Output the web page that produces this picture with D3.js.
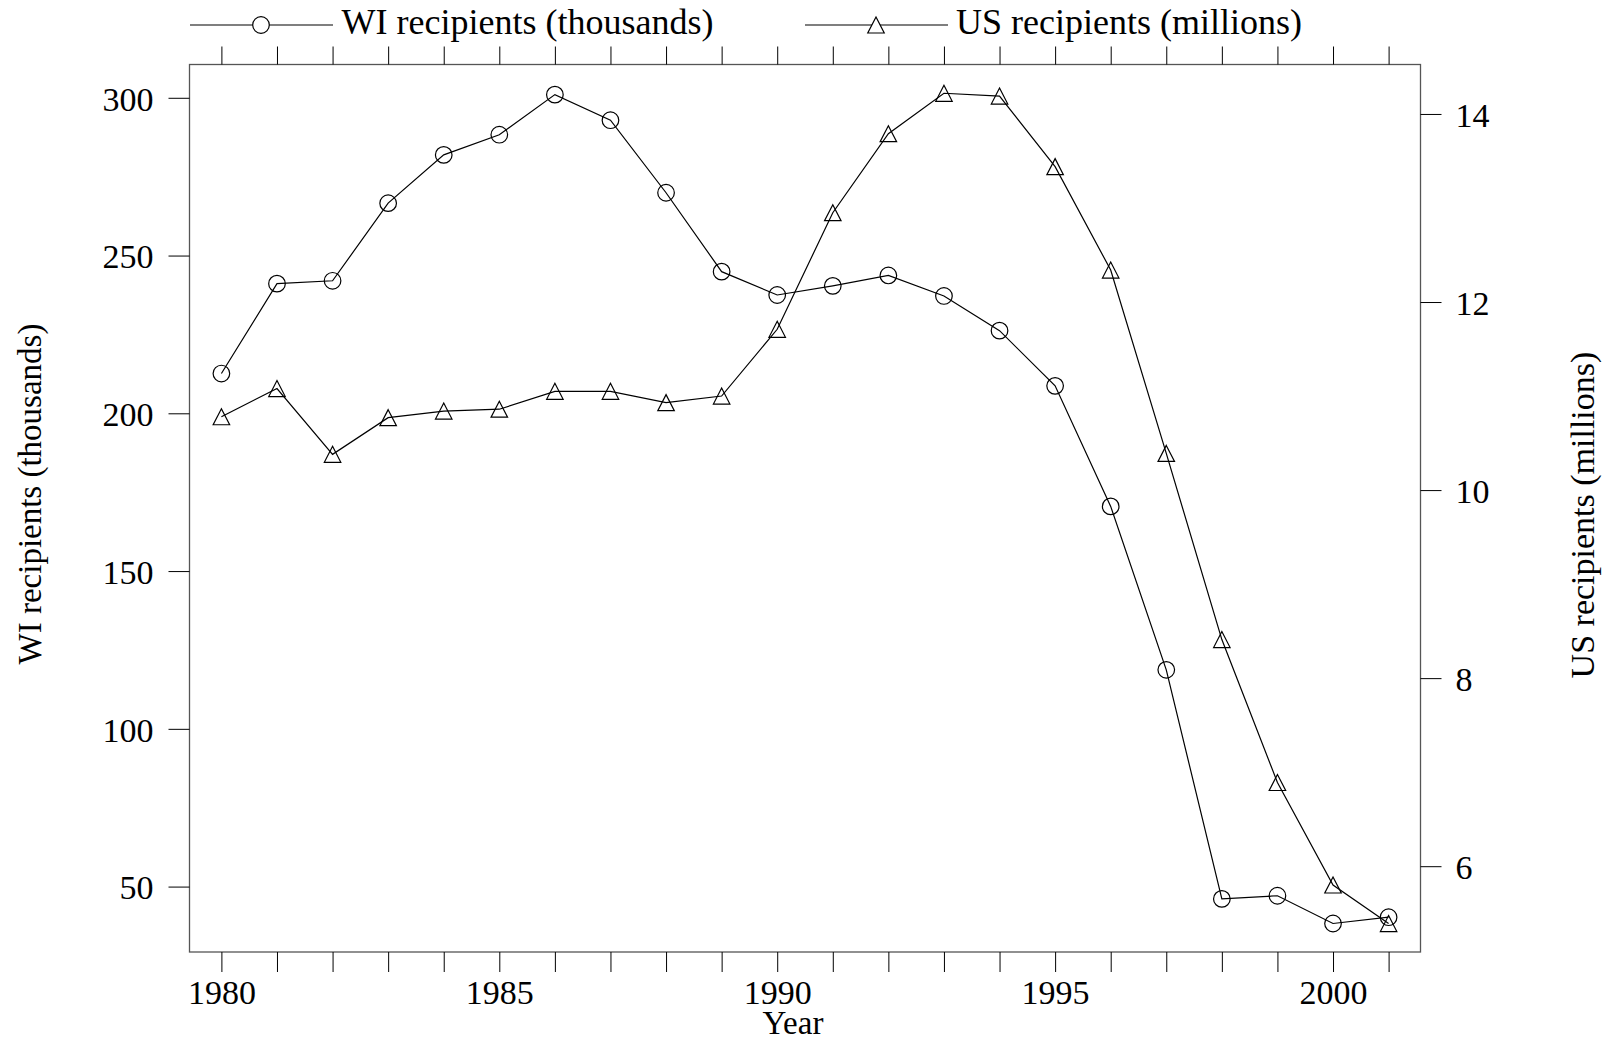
<!DOCTYPE html>
<html>
<head>
<meta charset="utf-8">
<script src="https://cdn.jsdelivr.net/npm/d3@7"></script>
<style>
  html, body { margin: 0; padding: 0; background: #fff; }
  svg { display: block; }
  text { font-family: "Liberation Serif", "Times New Roman", serif; fill: #000; }
</style>
</head>
<body>
<svg id="chart" width="1604" height="1041"></svg>
<script>
// ---- data ----
const years = [1980,1981,1982,1983,1984,1985,1986,1987,1988,1989,1990,1991,1992,1993,1994,1995,1996,1997,1998,1999,2000,2001];
const wiRecipients = [212.6,241.1,242.0,266.6,281.9,288.3,301.0,292.9,269.9,244.9,237.5,240.4,243.7,237.2,226.2,208.7,170.5,118.7,46.1,47.1,38.3,40.3];
const usRecipients = [10.78,11.08,10.38,10.77,10.84,10.86,11.05,11.05,10.93,11.00,11.71,12.95,13.79,14.22,14.19,13.44,12.34,10.39,8.41,6.89,5.80,5.39];
const xTickLabels = [1980,1985,1990,1995,2000];
const leftTicks = [50,100,150,200,250,300];
const rightTicks = [6,8,10,12,14];
const seriesNames = ["WI recipients (thousands)", "US recipients (millions)"];
const xTitle = "Year";
const leftTitle = "WI recipients (thousands)";
const rightTitle = "US recipients (millions)";

// ---- layout ----
const box = {x0: 189.5, x1: 1420.5, y0: 64.5, y1: 952};
const svg = d3.select("#chart");

const x = d3.scaleLinear().domain([1979.426, 2001.574]).range([box.x0, box.x1]);
const yL = d3.scaleLinear().domain([29.27, 310.55]).range([box.y1, box.y0]);
const yR = d3.scaleLinear().domain([5.0875, 14.526]).range([box.y1, box.y0]);

const tickFont = 34;

// frame
svg.append("rect")
  .attr("x", box.x0).attr("y", box.y0)
  .attr("width", box.x1 - box.x0).attr("height", box.y1 - box.y0)
  .attr("fill", "none").attr("stroke", "#555").attr("stroke-width", 1.3);

// bottom axis
const gB = svg.append("g").attr("transform", `translate(0,${box.y1})`)
  .call(d3.axisBottom(x).tickValues(years).tickSize(20).tickSizeOuter(0)
    .tickFormat(d => xTickLabels.includes(d) ? String(d) : ""));
gB.select(".domain").remove();
gB.selectAll(".tick line").attr("stroke", "#000").attr("stroke-width", 1);
gB.selectAll(".tick text").attr("y", 52).attr("dy", 0)
  .style("font-family", '"Liberation Serif", serif').style("font-size", tickFont + "px").attr("fill", "#000");

// top axis
const gT = svg.append("g").attr("transform", `translate(0,${box.y0})`)
  .call(d3.axisTop(x).tickValues(years).tickSize(18).tickSizeOuter(0).tickFormat(""));
gT.select(".domain").remove();
gT.selectAll(".tick line").attr("stroke", "#000").attr("stroke-width", 1);

// left axis
const gL = svg.append("g").attr("transform", `translate(${box.x0},0)`)
  .call(d3.axisLeft(yL).tickValues(leftTicks).tickSize(21).tickSizeOuter(0).tickFormat(d3.format("d")));
gL.select(".domain").remove();
gL.selectAll(".tick line").attr("stroke", "#000").attr("stroke-width", 1);
gL.selectAll(".tick text").attr("x", -36).attr("dy", "0.36em")
  .style("font-family", '"Liberation Serif", serif').style("font-size", tickFont + "px").attr("fill", "#000");

// right axis
const gR = svg.append("g").attr("transform", `translate(${box.x1},0)`)
  .call(d3.axisRight(yR).tickValues(rightTicks).tickSize(21).tickSizeOuter(0).tickFormat(d3.format("d")));
gR.select(".domain").remove();
gR.selectAll(".tick line").attr("stroke", "#000").attr("stroke-width", 1);
gR.selectAll(".tick text").attr("x", 35).attr("dy", "0.36em")
  .style("font-family", '"Liberation Serif", serif').style("font-size", tickFont + "px").attr("fill", "#000");

// titles
svg.append("text").attr("x", 793).attr("y", 1034).attr("text-anchor", "middle")
  .style("font-size", "33px").text(xTitle);
svg.append("text").attr("transform", "translate(41,494) rotate(-90)").attr("text-anchor", "middle")
  .style("font-size", "33px").text(leftTitle);
svg.append("text").attr("transform", "translate(1594,515) rotate(-90)").attr("text-anchor", "middle")
  .style("font-size", "34px").text(rightTitle);

// series lines
const lineWI = d3.line().x((d, i) => x(years[i])).y(d => yL(d));
const lineUS = d3.line().x((d, i) => x(years[i])).y(d => yR(d));
svg.append("path").datum(wiRecipients).attr("d", lineWI)
  .attr("fill", "none").attr("stroke", "#000").attr("stroke-width", 1.2);
svg.append("path").datum(usRecipients).attr("d", lineUS)
  .attr("fill", "none").attr("stroke", "#000").attr("stroke-width", 1.2);

// markers
const triSize = 16.5;
const triPath = (cx, cy) => {
  const h = triSize * 0.97, w = triSize;
  return `M${cx},${cy - h/2}L${cx + w/2},${cy + h/2}L${cx - w/2},${cy + h/2}Z`;
};
svg.append("g").selectAll("circle").data(wiRecipients).join("circle")
  .attr("cx", (d, i) => x(years[i])).attr("cy", d => yL(d)).attr("r", 8.3)
  .attr("fill", "none").attr("stroke", "#000").attr("stroke-width", 1.2);
svg.append("g").selectAll("path").data(usRecipients).join("path")
  .attr("d", (d, i) => triPath(x(years[i]), yR(d)))
  .attr("fill", "none").attr("stroke", "#000").attr("stroke-width", 1.2);

// legend
const legY = 25;
const leg = [
  {name: seriesNames[0], x0: 190, x1: 333, mx: 261, tx: 341.5, shape: "circle"},
  {name: seriesNames[1], x0: 805, x1: 948, mx: 876, tx: 956, shape: "tri"}
];
leg.forEach(l => {
  svg.append("line").attr("x1", l.x0).attr("x2", l.x1).attr("y1", legY).attr("y2", legY)
    .attr("stroke", "#000").attr("stroke-width", 1.2);
  if (l.shape === "circle") {
    svg.append("circle").attr("cx", l.mx).attr("cy", legY).attr("r", 8.3)
      .attr("fill", "#fff").attr("stroke", "#000").attr("stroke-width", 1.2);
  } else {
    svg.append("path").attr("d", triPath(l.mx, legY))
      .attr("fill", "#fff").attr("stroke", "#000").attr("stroke-width", 1.2);
  }
  svg.append("text").attr("x", l.tx).attr("y", 34).style("font-size", "36px").text(l.name);
});
</script>
</body>
</html>
